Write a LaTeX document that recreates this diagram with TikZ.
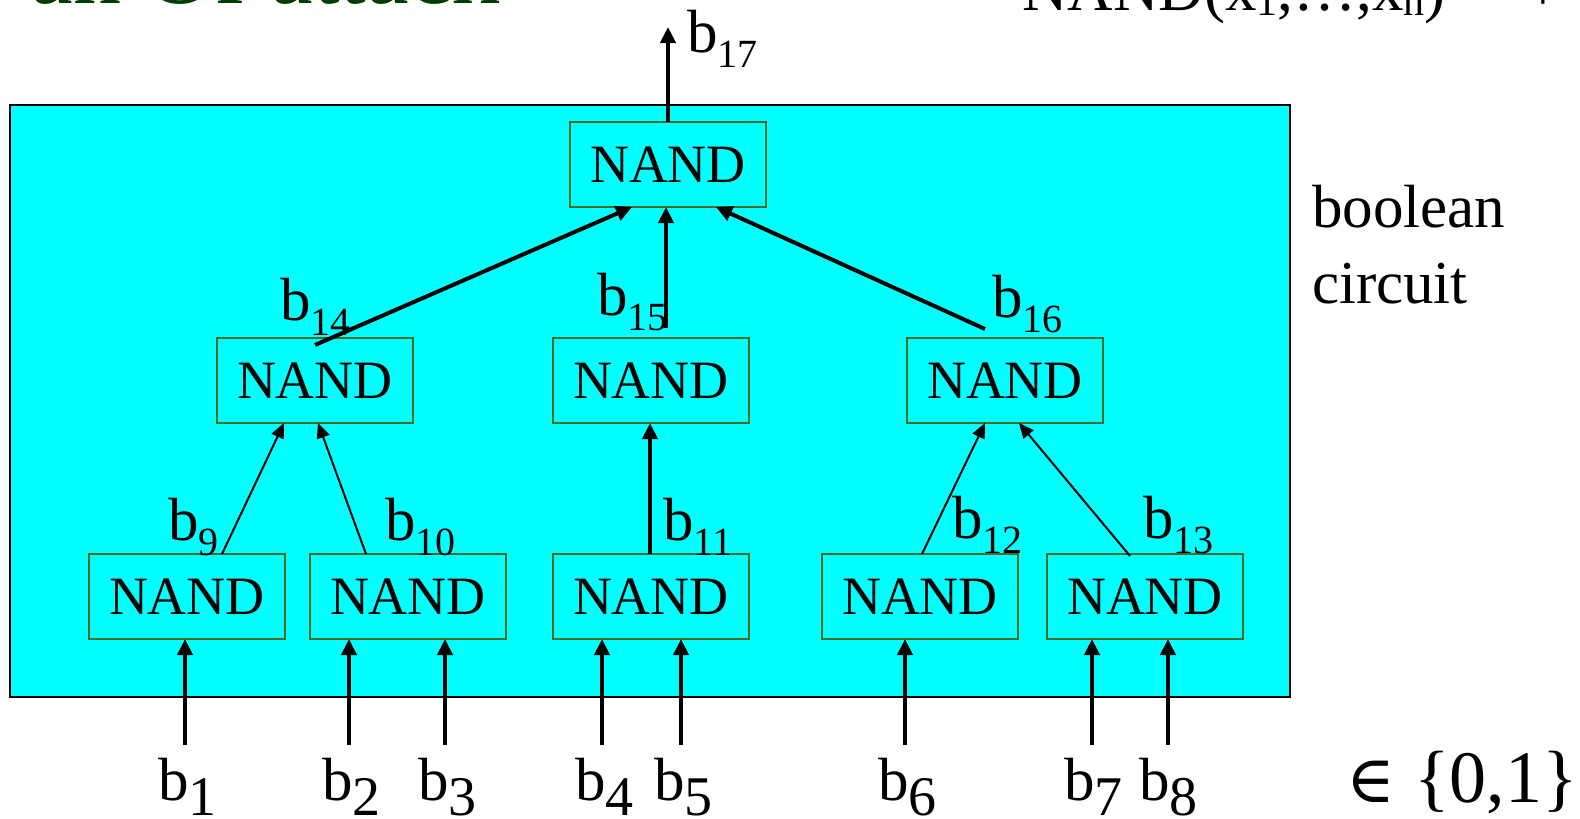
\documentclass[tikz,border=0pt]{standalone}
\usepackage{fontspec}
\setmainfont{Liberation Serif}
\newfontfamily\symfont{DejaVu Serif}
\usetikzlibrary{arrows.meta}
\definecolor{panel}{RGB}{0,255,255}
\definecolor{gateline}{RGB}{72,108,38}
\definecolor{titlegreen}{RGB}{0,60,0}
% signal names: b with a lowered index
\newcommand{\wire}[1]{{\fontsize{61}{61}\selectfont b\raisebox{-15pt}{\fontsize{40}{40}\selectfont #1}}}
\newcommand{\inbit}[1]{{\fontsize{61}{61}\selectfont b\raisebox{-15pt}{\fontsize{56}{56}\selectfont #1}}}
\newcommand{\lowidx}[1]{\raisebox{-5pt}{\fontsize{42}{42}\selectfont #1}}

\begin{document}
\begin{tikzpicture}[x=1pt,y=-1pt,
  gate/.style={draw=gateline,line width=2pt,minimum width=196pt,minimum height=85pt,
    inner sep=0pt,outer sep=0pt,font=\fontsize{54}{54}\selectfont},
  bigwire/.style={line width=4pt,-{Triangle[length=16pt,width=15pt]}},
  smallwire/.style={line width=2pt,-{Triangle[length=15pt,width=13pt]}},
  lab/.style={anchor=base west,inner sep=0pt,outer sep=0pt}]
\useasboundingbox (0,0) rectangle (1580,819);
\clip (0,0) rectangle (1580,819);

% headings running off the top edge
\node[anchor=base east,inner sep=0pt,text=titlegreen,font=\fontsize{96}{96}\selectfont] (title) at (500,4) {an Of attack};
\node[anchor=base west,inner sep=0pt,font=\fontsize{63}{63}\selectfont] (formula) at (1022,10)
  {NAND(x\lowidx{1},\dots,x\lowidx{n}) = ¬};

% circuit panel
\draw[fill=panel,line width=2pt] (10,105) rectangle (1290,697);

% gates
\node[gate] (t)  at (668,164.5) {NAND};
\node[gate] (m1) at (315,380.5) {NAND};
\node[gate] (m2) at (651,380.5) {NAND};
\node[gate] (m3) at (1005,380.5) {NAND};
\node[gate] (g1) at (187,596.5) {NAND};
\node[gate] (g2) at (408,596.5) {NAND};
\node[gate] (g3) at (651,596.5) {NAND};
\node[gate] (g4) at (920,596.5) {NAND};
\node[gate] (g5) at (1145,596.5) {NAND};

% output
\coordinate (out) at (668,27);
\draw[bigwire] (t.north) -- (out);
\node[lab] (l17) at (687,52) {\wire{17}};

% second level into the top gate
\coordinate (s14) at (315,345);
\coordinate (s15) at (666,328);
\coordinate (s16) at (985,329);
\draw[bigwire] (s14) -- ([xshift=-36pt]t.south);
\draw[bigwire] (s15) -- ([xshift=-2pt]t.south);
\draw[bigwire] (s16) -- ([xshift=48pt]t.south);
\node[lab] (l14) at (280,320) {\wire{14}};
\node[lab] (l15) at (597,315) {\wire{15}};
\node[lab] (l16) at (992,317) {\wire{16}};

% first level into the second
\draw[smallwire] ([xshift=35pt]g1.north) -- ([xshift=-31pt]m1.south);
\draw[smallwire] ([xshift=-42pt]g2.north) -- ([xshift=3pt]m1.south);
\draw[bigwire] ([xshift=-1pt]g3.north) -- ([xshift=-1pt]m2.south);
\draw[smallwire] ([xshift=2pt]g4.north) -- ([xshift=-20pt]m3.south);
\draw[smallwire] ([xshift=-15pt,yshift=-2pt]g5.north) -- ([xshift=14pt]m3.south);
\node[lab] (l9)  at (168,540) {\wire{9}};
\node[lab] (l10) at (385,540) {\wire{10}};
\node[lab] (l11) at (663,540) {\wire{11}};
\node[lab] (l12) at (952,538) {\wire{12}};
\node[lab] (l13) at (1143,538) {\wire{13}};

% inputs
\coordinate (i1) at (185,745);
\coordinate (i2) at (349,745);
\coordinate (i3) at (445,745);
\coordinate (i4) at (602,745);
\coordinate (i5) at (681,745);
\coordinate (i6) at (905,745);
\coordinate (i7) at (1092,745);
\coordinate (i8) at (1168,745);
\draw[bigwire] (i1) -- ([xshift=-2pt]g1.south);
\draw[bigwire] (i2) -- ([xshift=-59pt]g2.south);
\draw[bigwire] (i3) -- ([xshift=37pt]g2.south);
\draw[bigwire] (i4) -- ([xshift=-49pt]g3.south);
\draw[bigwire] (i5) -- ([xshift=30pt]g3.south);
\draw[bigwire] (i6) -- ([xshift=-15pt]g4.south);
\draw[bigwire] (i7) -- ([xshift=-53pt]g5.south);
\draw[bigwire] (i8) -- ([xshift=23pt]g5.south);
\node[lab] (b1) at (158,800) {\inbit{1}};
\node[lab] (b2) at (322,800) {\inbit{2}};
\node[lab] (b3) at (418,800) {\inbit{3}};
\node[lab] (b4) at (575,800) {\inbit{4}};
\node[lab] (b5) at (654,800) {\inbit{5}};
\node[lab] (b6) at (878,800) {\inbit{6}};
\node[lab] (b7) at (1064,800) {\inbit{7}};
\node[lab] (b8) at (1139,800) {\inbit{8}};

% side notes
\node[lab,font=\fontsize{61}{76}\selectfont,align=left] (kind) at (1312,303) {boolean\\circuit};
\node[lab,font=\fontsize{66}{66}\selectfont\symfont] (elem) at (1346,802) {∈};
\node[lab,font=\fontsize{74}{74}\selectfont] (set) at (1414,802) {\{0,1\}};
\end{tikzpicture}
\end{document}
